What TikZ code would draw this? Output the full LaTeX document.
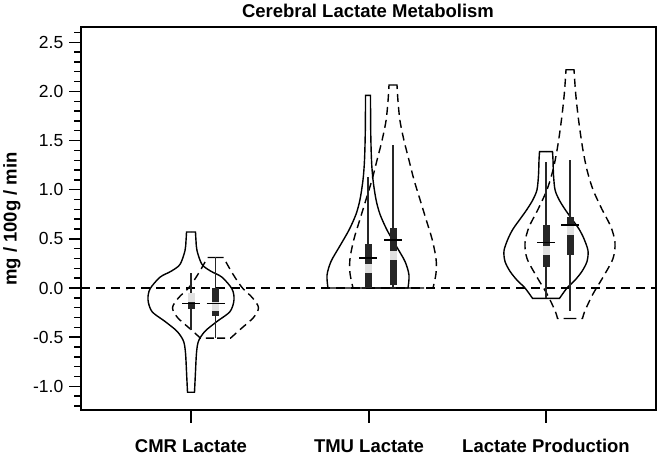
\documentclass[tikz,border=0pt]{standalone}
\usepackage{fontspec}
\setmainfont{Liberation Sans}
\usetikzlibrary{positioning}

\begin{document}
\begin{tikzpicture}[x=1pt,y=-1pt,
  violin/.style={line width=1.4pt},
  dviolin/.style={violin,dash pattern=on 8pt off 5pt},
  whisker/.style={line width=1.3pt,black!85},
  boxbar/.style={line width=7pt,black!85},
  medbar/.style={line width=7pt,black!12},
  meanbar/.style={line width=1.4pt},
  lab/.style={font=\fontsize{18.5}{20}\selectfont\bfseries},
  num/.style={font=\fontsize{17.5}{19}\selectfont}]
\useasboundingbox (0,0) rectangle (660,456);

% titles and axis labels
\node[lab] (title) at (368,11) {Cerebral Lactate Metabolism};
\node[lab,rotate=90] (ylab) at (12,219) {mg / 100g / min};
\node[lab] (cmr) at (191,446) {CMR Lactate};
\node[lab] (tmu) at (369,446) {TMU Lactate};
\node[lab] (prod) at (546,446) {Lactate Production};

% frame and x ticks
\draw[line width=1.8pt] (81,27) rectangle (656,410);
\foreach \x in {191,369,546} \draw[line width=1.4pt] (\x,410) -- (\x,423);

\begin{scope}[yshift=-288pt,y=98.3pt]
  % y ticks
  \foreach \i in {-12,...,26} \draw[line width=1.4pt] (81,\i/10) -- ++(-7,0);
  \foreach \v [count=\k] in {-1.0,-0.5,0.0,0.5,1.0,1.5,2.0,2.5}
    \draw[line width=1.4pt] (81,\v) -- ++(-12,0) node[num,anchor=east,inner sep=0pt,xshift=-5pt] (tick\k) {\v};

  % zero line
  \draw[line width=1.3pt,dash pattern=on 9pt off 6pt] (81,0) -- (656,0);

  % CMR Lactate
  \foreach \s in {1,-1}
    \draw[violin,xshift=191pt,xscale=\s] (0,0.57) -- plot[smooth] coordinates {(4.5,0.57) (5,0.48) (6,0.38) (11,0.24) (20,0.17) (31,0.11) (41,-0.01) (43,-0.12) (39,-0.24) (26,-0.34) (14,-0.44) (7.5,-0.54) (5.5,-0.66) (4.5,-0.85) (3.5,-1.06)} -- (0,-1.06);
  \foreach \s in {1,-1}
    \draw[dviolin,xshift=215.5pt,xscale=\s] (0,0.31) -- plot[smooth] coordinates {(8,0.31) (14,0.2) (20,0.1) (27,0.0) (37,-0.1) (43,-0.2) (38,-0.3) (26,-0.41) (15,-0.51)} -- (0,-0.51);

  % TMU Lactate
  \foreach \s in {1,-1}
    \draw[violin,xshift=368pt,xscale=\s] (0,1.96) -- plot[smooth] coordinates {(2.5,1.96) (2.7,1.6) (3.5,1.3) (5,1.1) (8,0.9) (12,0.75) (19,0.59) (28,0.43) (37,0.27) (41,0.13) (40,0.0)} -- (0,0);
  \foreach \s in {1,-1}
    \draw[dviolin,xshift=393pt,xscale=\s] (0,2.065) -- plot[smooth] coordinates {(4,2.065) (5,1.9) (7,1.7) (11,1.5) (16,1.3) (21,1.1) (27,0.9) (33,0.7) (39,0.5) (43,0.3) (43,0.15) (40,0.0)} -- (0,0);

  % Lactate Production
  \foreach \s in {1,-1}
    \draw[violin,xshift=546pt,xscale=\s] (0,1.387) -- plot[smooth] coordinates {(6.5,1.387) (7,1.3) (7.5,1.15) (9,1.0) (13,0.9) (19,0.8) (26,0.7) (33,0.6) (38,0.5) (42,0.38) (41,0.27) (36,0.17) (29,0.08) (21,0.0) (13.5,-0.105)} -- (0,-0.105);
  \foreach \s in {1,-1}
    \draw[dviolin,xshift=570pt,xscale=\s] (0,2.22) -- plot[smooth] coordinates {(4,2.22) (5.5,2.0) (7.5,1.8) (10,1.6) (13,1.4) (17,1.2) (23,1.0) (32,0.8) (41,0.62) (45,0.46) (43,0.3) (33,0.11) (23,-0.06) (15,-0.23) (12.5,-0.31)} -- (0,-0.31);

  % box plots: x / whisker lo / hi / q1 / q3 / median / mean
  \foreach \cx/\lo/\hi/\qa/\qb/\md/\mn in {191/-0.43/0.15/-0.21/-0.06/-0.1/-0.155,
      215.5/-0.51/0.31/-0.28/0.0/-0.19/-0.16,
      368/0/1.13/0/0.45/0.2/0.305,
      393/0/1.455/0.03/0.61/0.33/0.49,
      546/-0.105/1.285/0.215/0.64/0.385/0.46,
      570/-0.23/1.30/0.34/0.725/0.585/0.64}{
    \draw[whisker] (\cx,\lo) -- (\cx,\hi);
    \draw[boxbar] (\cx,\qa) -- (\cx,\qb);
    \draw[medbar] (\cx,\md-0.045) -- (\cx,\md+0.045);
    \draw[meanbar] (\cx-9,\mn) -- (\cx+9,\mn);
  }
\end{scope}
\end{tikzpicture}
\end{document}
